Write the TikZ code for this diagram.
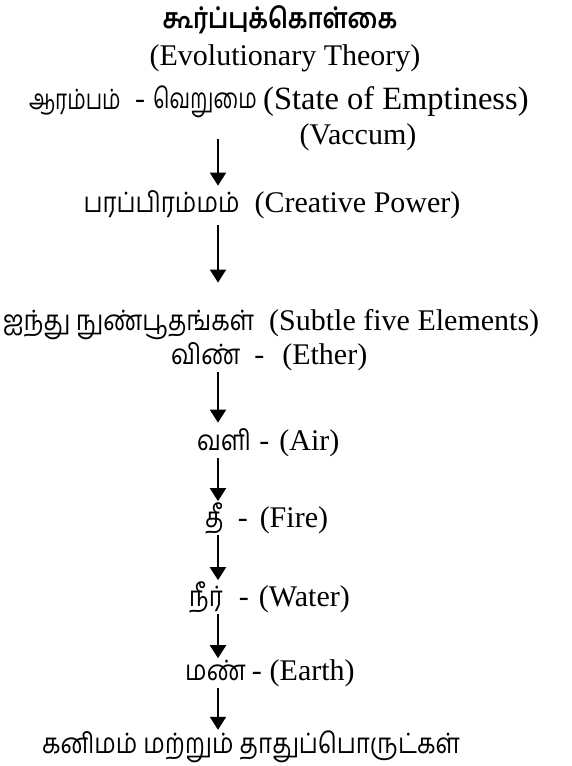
\documentclass[tikz,border=0pt]{standalone}
\usepackage{fontspec}
\setmainfont{Liberation Serif}
\newfontfamily\tamil[Script=Tamil, FakeStretch=0.86]{Hind Madurai}
\newfontfamily\tamilnarrow[Script=Tamil, FakeStretch=0.74]{Hind Madurai}
\newcommand{\tam}[1]{{\fontsize{28}{32}\selectfont\tamil #1}}
\newcommand{\tamn}[1]{{\fontsize{28}{32}\selectfont\tamilnarrow #1}}
\usetikzlibrary{arrows.meta, positioning}

\begin{document}
\begin{tikzpicture}[x=1pt, y=-1pt,
    txt/.style={inner sep=1pt, font=\fontsize{30}{34}\selectfont},
    arr/.style={-{Triangle[length=13pt, width=16pt]}, line width=2pt}]
\useasboundingbox[fill=white] (0,0) rectangle (572,766);
\coordinate (spine) at (218,0);
% heading
\node[txt, font=\fontsize{28}{32}\selectfont\tamil\bfseries] (title) at (280,20) {கூர்ப்புக்கொள்கை};
\node[txt] (evo) at (285,58) {(Evolutionary Theory)};
% start
\node[txt, anchor=west] (arambam) at (28,102) {\tamn{ஆரம்பம்}};
\node[txt, anchor=west] (verumai) at (134,102) {-\hspace{8pt}\tamn{வெறுமை}};
\node[txt, anchor=west, font=\fontsize{32.5}{36}\selectfont] (empty) at (262,102) {(State of Emptiness)};
\node[txt] (vaccum) at (358,137) {(Vaccum)};
\node[txt] (creative) at (272,205) {\tam{பரப்பிரம்மம்}\ \ (Creative Power)};
\node[txt] (elements) at (271,325) {\tam{ஐந்து\ நுண்பூதங்கள்}\ \ (Subtle five Elements)};
% five elements
\node[txt, anchor=west] (ether) at (170,357) {\tam{விண்}\hspace{14pt}-\hspace{18pt}(Ether)};
\node[txt, anchor=west] (air) at (196,443) {\tam{வளி}\hspace{8pt}-\hspace{10pt}(Air)};
\node[txt, anchor=west] (fire) at (204,518) {\tam{தீ}\hspace{14pt}-\hspace{12pt}(Fire)};
\node[txt, anchor=west] (water) at (188,597) {\tam{நீர்}\hspace{16pt}-\hspace{10pt}(Water)};
\node[txt, anchor=west] (earth) at (184,673) {\tam{மண்}\hspace{6pt}-\hspace{8pt}(Earth)};
\node[txt] (minerals) at (251,747) {\tam{கனிமம்\ மற்றும்\ தாதுப்பொருட்கள்}};
% arrows
\draw[arr, shorten <=20pt, shorten >=4pt] (verumai.south -| spine) -- (creative.north -| spine);
\draw[arr, shorten <=5pt, shorten >=26pt] (creative.south -| spine) -- (elements.north -| spine);
\draw[arr, shorten >=5pt] (ether.south -| spine) -- (air.north -| spine);
\draw[arr] (air.south -| spine) -- (fire.north -| spine);
\draw[arr] (fire.south -| spine) -- (water.north -| spine);
\draw[arr] (water.south -| spine) -- (earth.north -| spine);
\draw[arr] (earth.south -| spine) -- (minerals.north -| spine);
\end{tikzpicture}
\end{document}
